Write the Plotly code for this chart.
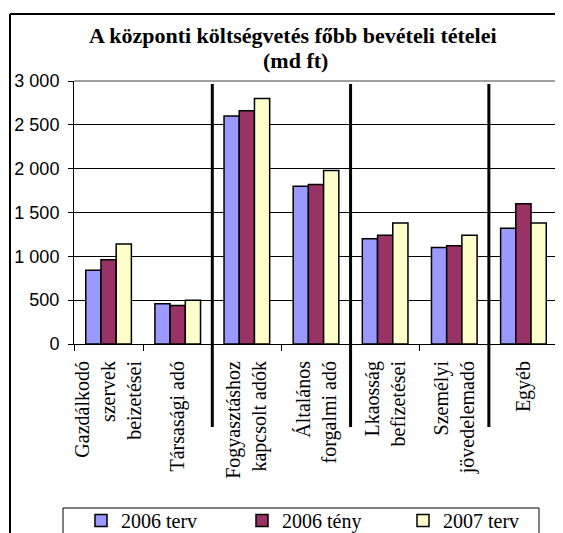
import plotly.graph_objects as go

# Data (md ft)
categories = [
    "Gazdálkodó<br>szervek<br>beizetései",
    "Társasági adó",
    "Fogyasztáshoz<br>kapcsolt adók",
    "Általános<br>forgalmi adó",
    "Lkaosság<br>befizetései",
    "Személyi<br>jövedelemadó",
    "Egyéb",
]
terv_2006 = [840, 460, 2600, 1800, 1200, 1100, 1320]
teny_2006 = [960, 440, 2660, 1820, 1240, 1120, 1600]
terv_2007 = [1140, 500, 2800, 1980, 1380, 1240, 1380]
y_ticks = [0, 500, 1000, 1500, 2000, 2500, 3000]
separator_after = [1, 3, 5]  # thick lines after these category indices

OFF = 8  # page body margin offsets the figure
W, H = 563 - OFF, 533 - OFF
PLOT_L, PLOT_R, PLOT_T, PLOT_B = 74 - OFF, 558 - OFF, 81 - OFF, 344 - OFF


def px_x(p):
    # p: x position in page pixels
    return (p - OFF - PLOT_L) / (PLOT_R - PLOT_L)


def px_y(p):
    return (PLOT_B - (p - OFF)) / (PLOT_B - PLOT_T)


def seg(x0, y0, x1, y1, color="black", width=1):
    return dict(type="line", xref="paper", yref="paper",
                x0=px_x(x0), y0=px_y(y0), x1=px_x(x1), y1=px_y(y1),
                line=dict(color=color, width=width), layer="above")


serif = "Liberation Serif, Times New Roman, serif"
sans = "Liberation Sans, Arial, sans-serif"

fig = go.Figure()
for name, vals, color in [
    ("2006 terv", terv_2006, "#9999FF"),
    ("2006 tény", teny_2006, "#993366"),
    ("2007 terv", terv_2007, "#FFFFCC"),
]:
    fig.add_trace(go.Bar(
        x=categories, y=vals, name=name,
        marker=dict(color=color, line=dict(color="black", width=1.5)),
    ))

shapes = []
# thick separators between category groups
for i in separator_after:
    shapes.append(dict(type="line", xref="x", yref="paper",
                       x0=i + 0.5, x1=i + 0.5, y0=px_y(427), y1=px_y(84),
                       line=dict(color="black", width=3), layer="above"))
# grey plot border on top and right
shapes.append(dict(type="line", xref="paper", yref="paper", x0=0, x1=1, y0=1, y1=1,
                   line=dict(color="#808080", width=1.5), layer="above"))
shapes.append(dict(type="line", xref="paper", yref="paper", x0=1, x1=1, y0=0, y1=1,
                   line=dict(color="#808080", width=1.5), layer="above"))
# outer chart frame: only top and left edges are inside the picture
shapes.append(seg(10, 14, 563, 14, width=2))
shapes.append(seg(10, 14, 10, 533, width=2))
# legend box: open at the bottom
shapes.append(seg(63, 508, 539, 508))
shapes.append(seg(63, 508, 63, 533))
shapes.append(seg(539, 508, 539, 533))

title_font = dict(family=serif, size=22, color="black")
annotations = [
    dict(text="<b>A központi költségvetés főbb bevételi tételei</b>",
         xref="paper", yref="paper", x=px_x(292.5), y=px_y(36),
         xanchor="center", yanchor="middle", showarrow=False, font=title_font),
    dict(text="<b>(md ft)</b>",
         xref="paper", yref="paper", x=px_x(295), y=px_y(60),
         xanchor="center", yanchor="middle", showarrow=False, font=title_font),
]

fig.update_layout(
    width=W, height=H,
    margin=dict(l=PLOT_L, r=W - PLOT_R, t=PLOT_T, b=H - PLOT_B, autoexpand=False),
    plot_bgcolor="white", paper_bgcolor="white",
    barmode="group", bargap=0.34, bargroupgap=0,
    separators=", ",
    legend=dict(
        orientation="h", x=px_x(63), y=px_y(501), xanchor="left", yanchor="top",
        borderwidth=0, bgcolor="rgba(0,0,0,0)",
        font=dict(family=serif, size=20, color="black"),
        entrywidth=98, entrywidthmode="pixels", traceorder="normal",
        indentation=18,
    ),
    shapes=shapes,
    annotations=annotations,
    showlegend=True,
)
fig.update_xaxes(
    tickangle=-90, tickfont=dict(family=serif, size=20, color="black"),
    showline=True, linecolor="black", linewidth=1,
    ticks="outside", ticklen=6, tickcolor="black", tickson="boundaries",
    ticklabelstandoff=8, showgrid=False,
)
fig.update_yaxes(
    range=[0, 3000], tickvals=y_ticks, tickformat=",d",
    tickfont=dict(family=sans, size=18, color="black"),
    showline=True, linecolor="black", linewidth=1,
    ticks="outside", ticklen=5, tickcolor="black", ticklabelstandoff=5,
    showgrid=True, gridcolor="black", gridwidth=1, zeroline=False,
)

fig.write_html("out.html")
